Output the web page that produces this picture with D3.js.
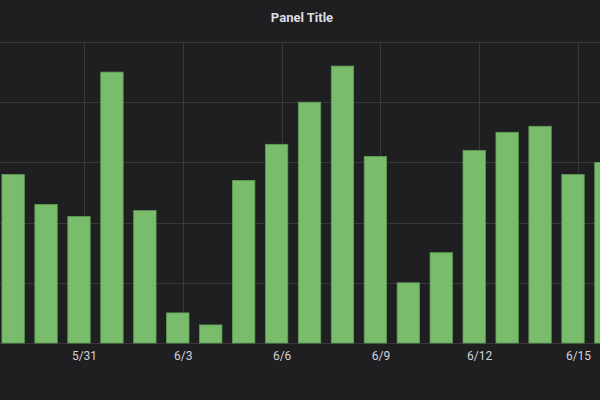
<!DOCTYPE html>
<html>
<head>
<meta charset="utf-8">
<script src="https://cdn.jsdelivr.net/npm/d3@7"></script>
<style>
  html, body { margin: 0; padding: 0; background: #1f1f21; }
  svg { display: block; }
</style>
</head>
<body>
<svg id="chart" width="600" height="400"></svg>
<script>
// ---- data ----
const dates = ["2025-05-29","2025-05-30","2025-05-31","2025-06-01","2025-06-02","2025-06-03","2025-06-04",
               "2025-06-05","2025-06-06","2025-06-07","2025-06-08","2025-06-09","2025-06-10","2025-06-11",
               "2025-06-12","2025-06-13","2025-06-14","2025-06-15","2025-06-16"];
const values = [28, 23, 21, 45, 22, 5, 3, 27, 33, 40, 46, 31, 10, 15, 32, 35, 36, 28, 30];
const tickDates = ["2025-05-28","2025-05-31","2025-06-03","2025-06-06","2025-06-09","2025-06-12","2025-06-15"];
const yTicks = [0, 10, 20, 30, 40, 50];
const title = "Panel Title";

(function () {
const parse = d3.utcParse("%Y-%m-%d");
const fmt = d3.utcFormat("%-m/%-d");

const W = 600, H = 400;
const plotTop = 42, baseline = 343;
const svg = d3.select("#chart");

svg.append("rect").attr("width", W).attr("height", H).attr("fill", "#1f1f21");

const x = d3.scaleUtc()
  .domain([parse("2025-05-31"), parse("2025-06-15")])
  .range([84, 578]);
const y = d3.scaleLinear().domain([0, 50]).range([baseline, plotTop]);

const daySpan = x(parse("2025-06-01")) - x(parse("2025-05-31"));
const barW = daySpan * 0.68;
const barShift = -5;

// grid
const grid = svg.append("g");
grid.selectAll("line.h").data(yTicks).join("line")
  .attr("x1", 0).attr("x2", W)
  .attr("y1", d => Math.round(y(d)) + 0.5).attr("y2", d => Math.round(y(d)) + 0.5)
  .attr("stroke", "#38383b").attr("stroke-width", 1);
grid.selectAll("line.v").data(tickDates).join("line")
  .attr("x1", d => Math.round(x(parse(d))) + 0.5).attr("x2", d => Math.round(x(parse(d))) + 0.5)
  .attr("y1", plotTop).attr("y2", baseline)
  .attr("stroke", "#38383b").attr("stroke-width", 1);

// bars
svg.append("g").selectAll("rect").data(dates.map((d, i) => ({d: parse(d), v: values[i]}))).join("rect")
  .attr("x", d => x(d.d) + barShift - barW / 2)
  .attr("width", barW)
  .attr("y", d => y(d.v))
  .attr("height", d => baseline - y(d.v))
  .attr("fill", "#79bc6c")
  .attr("stroke", "#5f9c55")
  .attr("stroke-width", 0.8);

// x axis labels
const xAxis = d3.axisBottom(x)
  .tickValues(tickDates.map(parse))
  .tickFormat(fmt)
  .tickSize(0)
  .tickPadding(8);
const ax = svg.append("g").attr("transform", `translate(0,${baseline})`).call(xAxis);
ax.select(".domain").remove();
ax.selectAll("text")
  .attr("fill", "#d0d2d6")
  .attr("font-family", "Roboto, 'Open Sans', sans-serif")
  .attr("font-size", 12);

// title
svg.append("text")
  .attr("x", 302).attr("y", 22)
  .attr("text-anchor", "middle")
  .attr("fill", "#dcdde0")
  .attr("font-family", "Roboto, 'Open Sans', sans-serif")
  .attr("font-weight", "bold")
  .attr("font-size", 13)
  .text(title);
})();
</script>
</body>
</html>
